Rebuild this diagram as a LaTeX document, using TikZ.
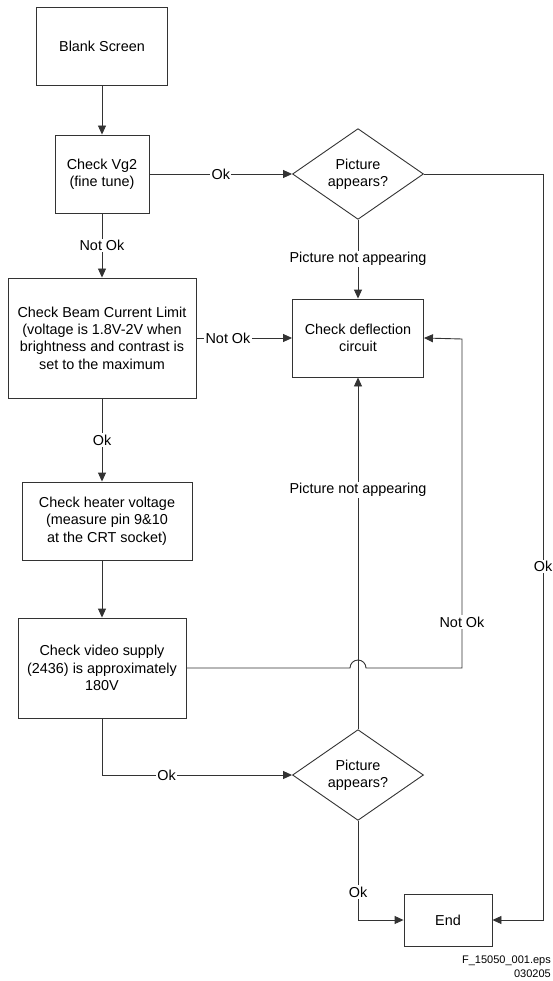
\documentclass[tikz,border=0pt]{standalone}
\usepackage{fontspec}
\setmainfont{Liberation Sans}
\usetikzlibrary{shapes.geometric,arrows.meta}

\begin{document}
\begin{tikzpicture}[x=1pt,y=-1pt,
  every node/.style={font=\fontsize{14.4}{17.3}\selectfont},
  ln/.style={draw=black!80, line width=0.9pt},
  box/.style={draw=black!80, line width=0.9pt, rectangle, align=center, inner sep=0pt},
  dia/.style={draw=black!80, line width=0.9pt, diamond, align=center, inner sep=0pt,
              minimum width=131pt, minimum height=78pt},
  arr/.style={ln, -{Triangle[length=9pt,width=8pt]}},
  lbl/.style={fill=white, inner sep=1.5pt},
  foot/.style={anchor=east, inner sep=0pt, font=\fontsize{11}{13}\selectfont},
]
\useasboundingbox (0,0) rectangle (553,981);

% process boxes
\node[box, minimum width=131pt, minimum height=78pt] (blank) at (102,46) {Blank Screen};
\node[box, minimum width=94pt, minimum height=78pt] (vg2) at (102,174) {Check Vg2\\(fine tune)};
\node[box, minimum width=188pt, minimum height=120pt] (beam) at (102,338)
  {Check Beam Current Limit\\(voltage is 1.8V-2V when\\brightness and contrast is\\set to the maximum};
\node[box, minimum width=170pt, minimum height=78pt] (heater) at (107,521)
  {Check heater voltage\\(measure pin 9\&10\\at the CRT socket)};
\node[box, minimum width=168pt, minimum height=100pt] (video) at (102,668)
  {Check video supply\\(2436) is approximately\\180V};
\node[box, minimum width=131pt, minimum height=78pt] (defl) at (358,338) {Check deflection\\circuit};
\node[box, minimum width=88pt, minimum height=52pt] (end) at (448,920) {End};

% decisions
\node[dia] (q1) at (358,174) {Picture\\appears?};
\node[dia] (q2) at (358,775) {Picture\\appears?};

% bend points
\coordinate (nk) at (462,339);
\coordinate (rk) at (543,174);

% connectors
\draw[arr] (blank.south) -- (vg2.north);
\draw[arr] (vg2.east) -- node[lbl]{Ok} (q1.west);
\draw[arr] (vg2.south) -- node[lbl]{Not Ok} (beam.north);
\draw[arr] (q1.south) -- node[lbl]{Picture not appearing} (defl.north);
\draw[arr] (beam.east) -- node[lbl,pos=0.33]{Not Ok} (defl.west);
\draw[arr] (beam.south) -- node[lbl]{Ok} (beam.south |- heater.north);
\draw[arr] (video.north |- heater.south) -- (video.north);
\draw[arr] (q2.north) -- node[lbl,pos=0.68]{Picture not appearing} (defl.south);
\draw[arr] (video.south) |- node[lbl,pos=0.67]{Ok} (q2.west);
\draw[arr] (video.east) -- (350,668) arc[start angle=180, end angle=0, radius=8pt]
  -- (nk |- video.east) -- node[lbl,pos=0.14]{Not Ok} (nk) -- (defl.east);
\draw[arr] (q1.east) -- (rk) -- node[lbl,pos=0.526]{Ok} (rk |- end.east) -- (end.east);
\draw[arr] (q2.south) |- node[lbl,pos=0.36]{Ok} (end.west);

% file reference
\node[foot] (fn) at (551,961) {F\_15050\_001.eps};
\node[foot] (dt) at (551,974) {030205};
\end{tikzpicture}
\end{document}
